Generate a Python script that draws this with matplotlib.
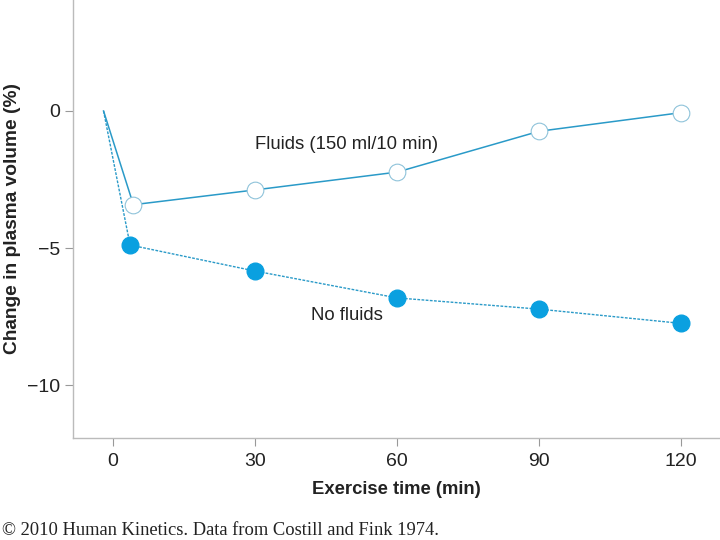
import matplotlib.pyplot as plt

plt.rcParams['font.family'] = ['Liberation Sans', 'DejaVu Sans']

# values
fluid_t = [-2, 4.3, 30, 60, 90, 120]
fluid_v = [0, -3.42, -2.88, -2.23, -0.74, -0.06]
nofluid_t = [-2, 3.6, 30, 60, 90, 120]
nofluid_v = [0, -4.89, -5.84, -6.82, -7.23, -7.75]
xticks = [0, 30, 60, 90, 120]
yticks = [0, -5, -10]

blue = "#0aa0e0"
line_c = "#2a9ac8"

fig = plt.figure(figsize=(7.2, 5.4), dpi=100)
ax = fig.add_axes([0.1014, 0.189, 0.8986, 0.811])

ax.plot(fluid_t, fluid_v, color=line_c, lw=1.1, zorder=2)
ax.plot(fluid_t[1:], fluid_v[1:], 'o', ms=12, mfc='white', mec='#8fc3da', mew=0.8, zorder=3)
ax.plot(nofluid_t, nofluid_v, color=line_c, lw=1.0, ls=(0, (2, 1)), zorder=2)
ax.plot(nofluid_t[1:], nofluid_v[1:], 'o', ms=12, mfc=blue, mec=blue, zorder=3)

ax.text(49.4, -1.24, "Fluids (150 ml/10 min)", fontsize=13.3, ha='center', va='center', color='#222222')
ax.text(49.4, -7.48, "No fluids", fontsize=13.3, ha='center', va='center', color='#222222')

ax.set_xlim(-8.45, 128.2)
ax.set_ylim(-11.93, 4.05)
ax.set_xticks(xticks)
ax.set_yticks(yticks)
ax.set_yticklabels(["0", "\u22125", "\u221210"])
ax.tick_params(axis='both', direction='out', length=6, width=0.8, color='#999999',
               labelsize=14, labelcolor='#222222')
ax.tick_params(axis='x', pad=4.5)
ax.tick_params(axis='y', pad=3)

for s in ['top', 'right']:
    ax.spines[s].set_visible(False)
for s in ['left', 'bottom']:
    ax.spines[s].set_color('#bbbbbb')
    ax.spines[s].set_linewidth(1.0)

ax.set_xlabel("Exercise time (min)", fontsize=13.3, fontweight='bold', color='#222222')
ax.xaxis.set_label_coords(0.5, -0.098)
ax.set_ylabel("Change in plasma volume (%)", fontsize=13.8, fontweight='bold', color='#222222')
ax.yaxis.set_label_coords(-0.08, 0.5)

fig.text(0.003, 0.01, "\u00a9 2010 Human Kinetics. Data from Costill and Fink 1974.",
         family=['Liberation Serif', 'DejaVu Serif'], fontsize=13.3, color='#222222')

fig.savefig("out.png", dpi=100)
